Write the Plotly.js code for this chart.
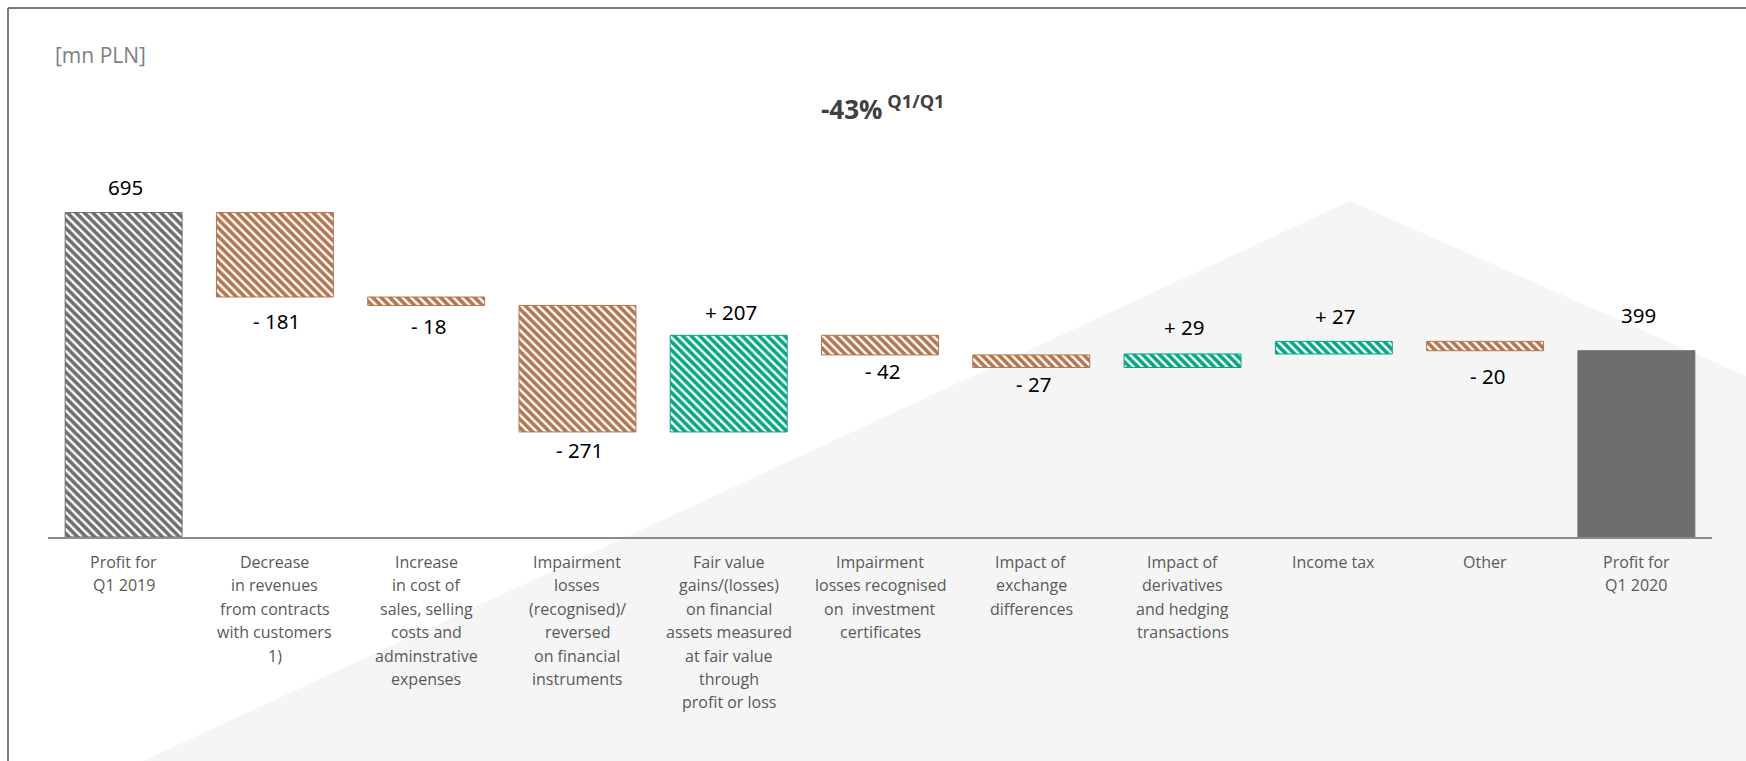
<!DOCTYPE html>
<html>
<head>
<meta charset="utf-8">
<script src="https://cdn.plot.ly/plotly-3.0.1.min.js"></script>
<style>
  html, body { margin: 0; padding: 0; background: #ffffff; }
  #chart { width: 1746px; height: 761px; }
</style>
</head>
<body>
<div id="chart"></div>
<script>
// ---- data ----
const categories = [
  "Profit for<br>Q1 2019",
  "Decrease<br>in revenues<br>from contracts<br>with customers<br>1)",
  "Increase<br>in cost of<br>sales, selling<br>costs and<br>adminstrative<br>expenses",
  "Impairment<br>losses<br>(recognised)/<br>reversed<br>on financial<br>instruments",
  "Fair value<br>gains/(losses)<br>on financial<br>assets measured<br>at fair value<br>through<br>profit or loss",
  "Impairment<br>losses recognised<br>on  investment<br>certificates",
  "Impact of<br>exchange<br>differences",
  "Impact of<br>derivatives<br>and hedging<br>transactions",
  "Income tax",
  "Other",
  "Profit for<br>Q1 2020"
];
const startValue = 695;
const deltas = [-181, -18, -271, 207, -42, -27, 29, 27, -20];
const endValue = 399;
const unitLabel = "[mn PLN]";
const changeLabel = "-43%";
const changePeriod = "Q1/Q1";

// ---- style ----
const BROWN = "#b47650";
const GREEN = "#06a683";
const GRAY = "#6e6e6e";
const labelShift = [26, -24, -21, -18, 23, -16, -16, 27, 25, -25, 36];

// ---- waterfall geometry from values ----
const bases = [0], heights = [startValue], ends = [startValue], texts = [String(startValue)], kinds = ["start"];
let level = startValue;
deltas.forEach(d => {
  if (d < 0) { bases.push(level + d); heights.push(-d); ends.push(level + d); texts.push("- " + (-d)); kinds.push("dec"); }
  else { bases.push(level); heights.push(d); ends.push(level + d); texts.push("+ " + d); kinds.push("inc"); }
  level += d;
});
bases.push(0); heights.push(endValue); ends.push(endValue); texts.push(String(endValue)); kinds.push("end");

function makeTrace(kind, color, hatched) {
  const idx = kinds.map((k, i) => k === kind ? i : -1).filter(i => i >= 0);
  const t = {
    type: "bar",
    x: idx.map(i => categories[i]),
    y: idx.map(i => heights[i]),
    base: idx.map(i => bases[i]),
    width: 0.773,
    marker: { color: hatched ? "#ffffff" : color, line: { color: color, width: 1 } },
    hoverinfo: "skip"
  };
  if (hatched) {
    t.marker.pattern = { shape: "\\", fgcolor: color, fgopacity: 1, bgcolor: "#ffffff", size: 6, solidity: 0.6, fillmode: "overlay" };
  }
  return t;
}
const traces = [
  makeTrace("start", GRAY, true),
  makeTrace("dec", BROWN, true),
  makeTrace("inc", GREEN, true),
  makeTrace("end", GRAY, false)
];

// ---- pixel -> paper helpers (plot area 48..1712 x, 100..537 y) ----
const L = 48, R = 34, T = 100, B = 224, W = 1746, H = 761;
const pw = W - L - R, ph = H - T - B;
const px = X => (X - L) / pw;
const py = Y => (H - B - Y) / ph;

const annotations = categories.map((c, i) => ({
  x: c, y: ends[i], xref: "x", yref: "y",
  text: texts[i], showarrow: false,
  yanchor: "middle", xanchor: "center", yshift: labelShift[i], xshift: 2,
  font: { family: "Noto Sans, Open Sans, sans-serif", size: 20.5, color: "#000000" }
}));
// category labels, one line each for Excel-like line spacing
categories.forEach(c => {
  c.split("<br>").forEach((line, k) => {
    annotations.push({
      x: c, xref: "x", y: 0, yref: "paper", yanchor: "middle", xanchor: "center",
      yshift: -(25 + k * 23.4), text: line, showarrow: false,
      font: { family: "Open Sans, sans-serif", size: 16, color: "#595959" }
    });
  });
});
annotations.push({
  x: px(53), y: py(55), xref: "paper", yref: "paper", xanchor: "left", yanchor: "middle",
  text: unitLabel, showarrow: false,
  font: { family: "Open Sans, sans-serif", size: 21, color: "#7f7f7f" }
});
annotations.push({
  x: px(819), y: py(108), xref: "paper", yref: "paper", xanchor: "left", yanchor: "middle",
  text: "<b>" + changeLabel + "</b><sup><b> " + changePeriod + "</b></sup>", showarrow: false,
  font: { family: "Open Sans, sans-serif", size: 26, color: "#404040" }
});

const layout = {
  width: W, height: H,
  margin: { l: L, r: R, t: T, b: B, pad: 0 },
  paper_bgcolor: "#ffffff",
  plot_bgcolor: "rgba(0,0,0,0)",
  showlegend: false,
  barmode: "overlay",
  xaxis: {
    type: "category",
    categoryorder: "array", categoryarray: categories,
    range: [-0.5, 10.5],
    showline: true, linecolor: "#8c8c8c", linewidth: 2,
    showgrid: false, zeroline: false, showticklabels: false, ticks: "",
    automargin: false, fixedrange: true
  },
  yaxis: {
    range: [0, 936], visible: false, showgrid: false, zeroline: false, fixedrange: true
  },
  shapes: [
    { type: "path", xref: "paper", yref: "paper", layer: "below",
      path: `M ${px(143)} ${py(761)} L ${px(1350)} ${py(201)} L ${px(1746)} ${py(376)} L ${px(1746)} ${py(761)} Z`,
      fillcolor: "#f5f5f5", line: { width: 0 } },
    { type: "line", xref: "paper", yref: "paper", x0: px(8), x1: px(1746), y0: py(8), y1: py(8),
      line: { color: "#7a7a7a", width: 2 } },
    { type: "line", xref: "paper", yref: "paper", x0: px(8), x1: px(8), y0: py(8), y1: py(761),
      line: { color: "#7a7a7a", width: 2 } }
  ],
  annotations: annotations
};

Plotly.newPlot("chart", traces, layout, { staticPlot: true, displayModeBar: false });
</script>
</body>
</html>
